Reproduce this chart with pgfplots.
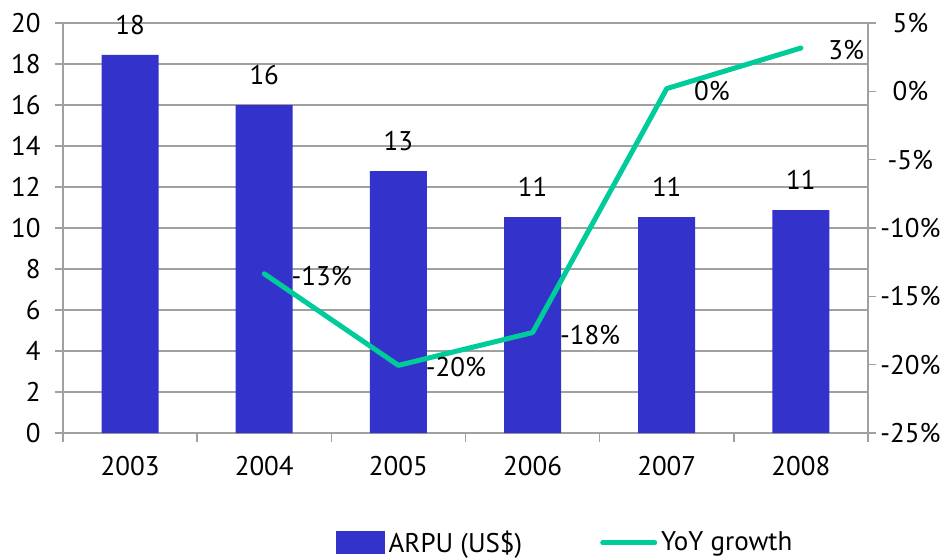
\documentclass[border=0pt]{standalone}
\usepackage{pgfplots}
\pgfplotsset{compat=1.18}
\usepackage{fontspec}
\setmainfont{PT Sans}
\definecolor{barblue}{HTML}{3333CC}
\definecolor{linegreen}{HTML}{00CC99}
\definecolor{gridgray}{HTML}{A0A0A0}
\begin{document}
\begin{tikzpicture}[font=\fontsize{13.5}{16}\selectfont]
\path (-31.5pt,-61pt) rectangle (442.5pt,216.5pt);
\begin{axis}[
  at={(0pt,0pt)}, anchor=south west,
  scale only axis, width=402.5pt, height=205pt,
  xmin=-0.5, xmax=5.5, ymin=0, ymax=20,
  ytick={0,2,...,20},
  xtick={0,...,5}, xticklabels={2003,2004,2005,2006,2007,2008},
  major x tick style={draw=none},
  minor xtick={-0.5,0.5,...,5.5},
  minor x tick style={gridgray, line width=0.8pt},
  xtick pos=bottom, ytick pos=left,
  tick align=outside,
  major tick length=4pt, minor tick length=4.5pt,
  tick style={gridgray, line width=0.8pt},
  axis line style={gridgray, line width=0.8pt},
  ymajorgrids, grid style={gridgray, line width=0.8pt},
  /pgf/number format/assume math mode=true,
  yticklabel style={inner sep=0pt, xshift=-7pt},
  xticklabel style={inner sep=0pt, yshift=-7.5pt},
  ybar, bar width=28.5pt,
  nodes near coords,
  every node near coord/.append style={inner sep=0pt, yshift=10pt, anchor=south, black},
  point meta=explicit symbolic,
]
\addplot[fill=barblue, draw=none] coordinates {
  (0,18.45) [18]
  (1,16.0) [16]
  (2,12.77) [13]
  (3,10.53) [11]
  (4,10.53) [11]
  (5,10.87) [11]
};
\end{axis}
\begin{axis}[
  at={(0pt,0pt)}, anchor=south west,
  scale only axis, width=402.5pt, height=205pt,
  xmin=-0.5, xmax=5.5, ymin=-25, ymax=5,
  axis x line=none,
  axis y line*=right,
  ytick={-25,-20,...,5},
  yticklabels={-25\%,-20\%,-15\%,-10\%,-5\%,0\%,5\%},
  tick align=outside, major tick length=4pt,
  tick style={gridgray, line width=0.8pt},
  axis line style={gridgray, line width=0.8pt},
  yticklabel style={inner sep=0pt, anchor=west, text width=34pt, align=center},
  nodes near coords={\pgfplotspointmeta\%},
  every node near coord/.append style={inner sep=0pt, anchor=west, xshift=12.5pt, yshift=-1pt, black},
  point meta=explicit symbolic,
  legend style={at={(0.625,-0.268)}, anchor=center, draw=none, fill=none,
    legend columns=2, inner sep=0pt,
    /tikz/every even column/.append style={column sep=37pt},
    nodes={inner sep=2pt}},
]
\addlegendimage{legend image code/.code={\fill[barblue] (0pt,-5.5pt) rectangle (24pt,5.5pt);}}
\addlegendentry{ARPU (US\$)}
\addplot[linegreen, line width=2.5pt, line join=round, line cap=round,
  legend image code/.code={\draw[linegreen, line width=2.5pt, line cap=round] (0pt,0pt) -- (26pt,0pt);}]
  coordinates {
  (1,-13.35) [-13]
  (2,-20.05) [-20]
  (3,-17.65) [-18]
  (4,0.2) [0]
  (5,3.17) [3]
};
\addlegendentry{YoY growth}
\end{axis}
\end{tikzpicture}
\end{document}
